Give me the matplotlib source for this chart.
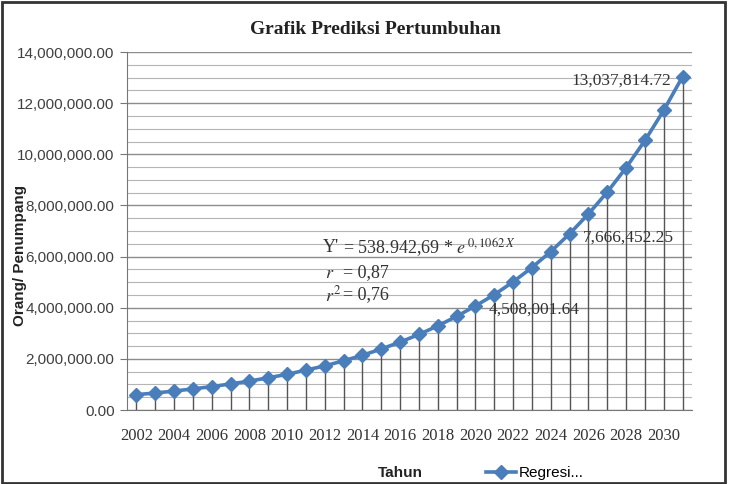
import numpy as np
import matplotlib
matplotlib.use("Agg")
import matplotlib.pyplot as plt
from matplotlib.ticker import StrMethodFormatter, MultipleLocator
from matplotlib.patches import Rectangle

# data (values in people / passengers)
years = list(range(2002, 2032))
values = [600000, 665000, 740000, 825000, 915000, 1020000, 1130000, 1260000,
          1395000, 1560000, 1725000, 1925000, 2140000, 2385000, 2655000,
          2955000, 3290000, 3660000, 4070000, 4508001.64, 5010000, 5570000,
          6195000, 6890000, 7666452.25, 8520000, 9475000, 10540000, 11720000,
          13037814.72]
tick_years = years[::2]
labelled = {2021: "4,508,001.64", 2026: "7,666,452.25", 2031: "13,037,814.72"}

plt.rcParams['mathtext.fontset'] = 'stix'
blue = '#4a7ebb'

fig = plt.figure(figsize=(7.31, 4.84), dpi=100)
ax = fig.add_axes([127/731, 1 - 410/484, 565/731, 358/484])

x = np.arange(len(years))
# drop lines
ax.vlines(x, 0, values, color='#555555', lw=1, zorder=2)
ax.plot(x, values, color=blue, lw=2.6, marker='D', markersize=7,
        markeredgecolor=blue, zorder=3, label='Regresi...')

ax.set_xlim(-0.5, len(years) - 0.5)
ax.set_ylim(0, 14000000)
ax.yaxis.set_major_locator(MultipleLocator(2000000))
ax.yaxis.set_minor_locator(MultipleLocator(500000))
ax.yaxis.set_major_formatter(StrMethodFormatter('{x:,.2f}'))
ax.grid(axis='y', which='major', color='#8c8c8c', lw=1, zorder=0)
ax.grid(axis='y', which='minor', color='#b5b5b5', lw=0.8, zorder=0)
ax.set_axisbelow(True)

ax.set_xticks([years.index(y) for y in tick_years])
ax.set_xticklabels([str(y) for y in tick_years], fontfamily='Liberation Serif',
                   fontsize=12, color='#333333')
ax.tick_params(axis='x', length=0, pad=13)
ax.tick_params(axis='y', which='major', length=5, color='#777777',
               labelsize=11, labelcolor='#404040', pad=4)
ax.tick_params(axis='y', which='minor', length=0)
for lbl in ax.get_yticklabels():
    lbl.set_fontfamily('Liberation Sans')

for s in ['top', 'right']:
    ax.spines[s].set_visible(False)
ax.spines['left'].set_color('#777777')
ax.spines['bottom'].set_color('#777777')

# data labels
offsets = {2021: (-4, -11), 2026: (-4, -17), 2031: (-8, -3)}
aligns = {2021: 'left', 2026: 'left', 2031: 'right'}
for yr, txt in labelled.items():
    i = years.index(yr)
    ax.annotate(txt, xy=(i, values[i]), xytext=offsets[yr], textcoords='offset points',
                ha=aligns[yr], va='center', fontfamily='Liberation Serif',
                fontsize=12.5, color='#333333')

# regression equation
serif = dict(fontfamily='Liberation Serif', fontsize=13, color='#333333',
             transform=fig.transFigure, va='center')
fig.text(323/731, 1 - 248/484, r"Y'", **serif)
fig.text(343/731, 1 - 248/484, r"= 538.942,69 * $e^{\,0,1062\,X}$", **serif)
fig.text(325/731, 1 - 273/484, r"$r$", **serif)
fig.text(343/731, 1 - 273/484, r"= 0,87", **serif)
fig.text(325/731, 1 - 295/484, r"$r^2$", **serif)
fig.text(343/731, 1 - 295/484, r"= 0,76", **serif)

fig.text(375/731, 1 - 30/484, 'Grafik Prediksi Pertumbuhan', ha='center', va='center',
         fontfamily='Liberation Serif', fontweight='bold', fontsize=14, color='#222222')
fig.text(20/731, 1 - 256/484, 'Orang/ Penumpang', rotation=90, ha='center', va='center',
         fontfamily='Liberation Sans', fontweight='bold', fontsize=11, color='#222222')
fig.text(400/731, 1 - 473/484, 'Tahun', ha='center', va='center',
         fontfamily='Liberation Sans', fontweight='bold', fontsize=11, color='#222222')

fig.legend(loc='center left', bbox_to_anchor=(472/731, 1 - 473/484), frameon=False,
           handlelength=2.0, handletextpad=0.15,
           prop={'family': 'Liberation Sans', 'size': 11})

fig.patches.append(Rectangle((2/731, 1/484), 723/731, 481/484, transform=fig.transFigure,
                             fill=False, edgecolor='#333333', lw=2))

fig.savefig('out.png', dpi=100)
